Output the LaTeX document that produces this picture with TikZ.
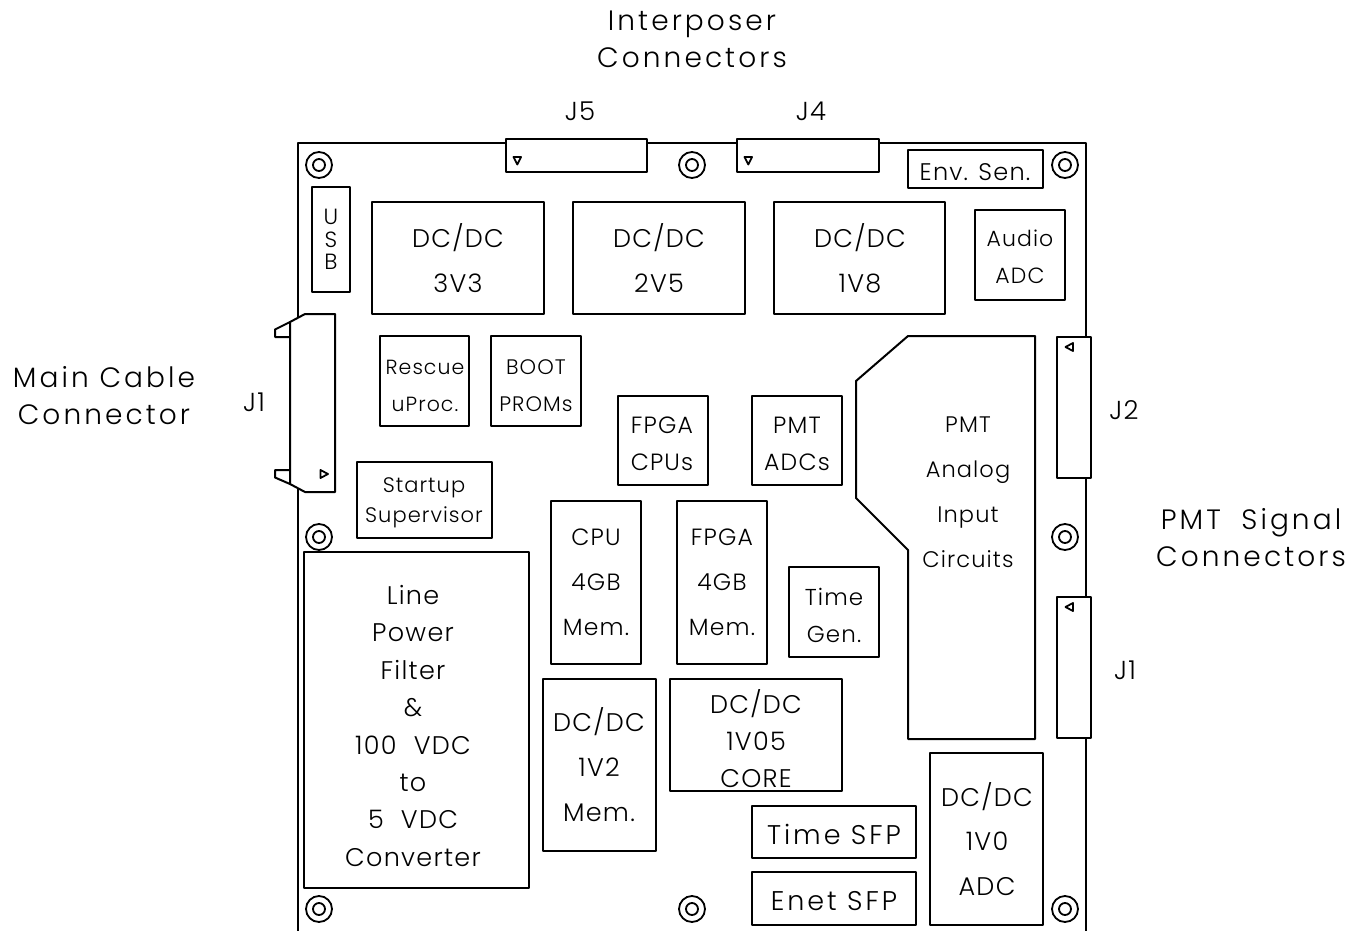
\documentclass[tikz,border=0pt]{standalone}
\usepackage{fontspec}
\setmainfont{Poppins Light}[LetterSpace=5]
\newcommand{\wide}{\addfontfeature{LetterSpace=11}}
\newcommand{\wsp}{\hspace{.35em}}
\tikzset{
  pcb/.style={draw=black,fill=white,line width=2pt,line join=round,inner sep=0pt,outer sep=0pt},
  plain/.style={draw=black,line width=2pt,line join=round},
  pinmark/.style={draw=black,line width=1.8pt,line join=round},
  txt/.style={align=center,inner sep=0pt,outer sep=0pt,text=black}
}
% \pbox{name}{x1}{y1}{x2}{y2}
\newcommand{\pbox}[5]{\node[pcb,minimum width={(#4-#2)*1pt},minimum height={(#5-#3)*1pt}] (#1) at ({(#2+#4)/2},{(#3+#5)/2}) {};}
% \ptxt{name}{x}{y}{size}{skip}{text}
\newcommand{\ptxt}[6]{\node[txt,font=\fontsize{#4}{#5}\selectfont] (#1) at (#2,#3) {#6};}
\newcommand{\hole}[3]{\node[circle,draw=black,line width=1.8pt,minimum size=26pt,inner sep=0pt] (#1o) at (#2,#3) {};
  \node[circle,draw=black,line width=1.8pt,minimum size=12pt,inner sep=0pt] (#1i) at (#2,#3) {};}
\begin{document}
\begin{tikzpicture}[x=1pt,y=-1pt]
\useasboundingbox (0,0) rectangle (1349,931);
% board
\draw[plain] (298,931) -- (298,143) -- (1086,143) -- (1086,931);
% holes
\hole{h1}{319}{165}\hole{h2}{692}{165}\hole{h3}{1065}{165}
\hole{h4}{319}{537}\hole{h5}{1065}{537}
\hole{h6}{319}{909}\hole{h7}{692}{909}\hole{h8}{1065}{909}
% top connectors
\pbox{jfive}{506}{139}{647}{172}
\pbox{jfour}{737}{139}{879}{172}
\draw[pinmark] (513.5,157) -- (521,157) -- (517.3,164.5) -- cycle;
\draw[pinmark] (744.5,157) -- (752,157) -- (748.3,164.5) -- cycle;
% right connectors
\pbox{jtwo}{1057}{337}{1091}{478}
\pbox{jonr}{1057}{597}{1091}{738}
\draw[pinmark] (1073,343) -- (1073,351) -- (1065.5,347) -- cycle;
\draw[pinmark] (1073,603) -- (1073,611) -- (1065.5,607) -- cycle;
% left connector
\draw[pcb] (290,322) -- (305,314) -- (335,314) -- (335,492) -- (305,492) -- (290,484) -- cycle;
\draw[plain] (290,322) -- (275,329.5) -- (275,337) -- (290,337);
\draw[plain] (290,470) -- (275,470) -- (275,477.5) -- (290,484);
\draw[pinmark] (320.5,470) -- (328,474) -- (320.5,478) -- cycle;
% boxes
\pbox{usb}{312}{187}{350}{292}
\pbox{dca}{372}{202}{544}{314}
\pbox{dcb}{573}{202}{745}{314}
\pbox{dcc}{774}{202}{945}{314}
\pbox{env}{908}{150}{1043}{188}
\pbox{aud}{975}{210}{1065}{300}
\pbox{res}{380}{336}{469}{426}
\pbox{boo}{491}{336}{581}{426}
\pbox{fcp}{618}{396}{708}{485}
\pbox{pad}{752}{396}{842}{485}
\pbox{sta}{357}{462}{492}{538}
\pbox{lin}{304}{552}{529}{888}
\pbox{cpu}{551}{501}{641}{664}
\pbox{fpg}{677}{501}{767}{664}
\pbox{tim}{789}{567}{879}{657}
\pbox{dcd}{543}{679}{656}{851}
\pbox{dce}{670}{679}{842}{791}
\pbox{tsf}{752}{806}{916}{858}
\pbox{esf}{752}{872}{916}{925}
\pbox{dcf}{930}{753}{1043}{925}
\draw[plain] (908,336) -- (1035,336) -- (1035,739) -- (908,739) -- (908,550) -- (856,498) -- (856,381) -- cycle;
% texts
\ptxt{tint}{692}{39}{28}{37}{\wide Interposer\\\wide Connectors}
\ptxt{tmain}{104}{396}{28}{37}{\wide Main Cable\\\wide Connector}
\ptxt{tpmts}{1251}{538}{28}{37}{\wide PMT\wsp{} Signal\\\wide Connectors}
\ptxt{tjfive}{580}{111.5}{26}{28}{J5}
\ptxt{tjfour}{811}{111.5}{26}{28}{J4}
\ptxt{tjl}{254}{402}{26}{28}{J1}
\ptxt{tjtwo}{1124}{410}{26}{28}{J2}
\ptxt{tjonr}{1125}{670}{26}{28}{J1}
\ptxt{tusb}{331}{239.5}{22}{22.5}{U\\S\\B}
\ptxt{tdca}{458}{258.5}{25.5}{45}{DC/DC\\3V3}
\ptxt{tdcb}{659}{258.5}{25.5}{45}{DC/DC\\2V5}
\ptxt{tdcc}{860}{258.5}{25.5}{45}{DC/DC\\1V8}
\ptxt{tenv}{975}{172}{24}{26}{Env. Sen.}
\ptxt{taud}{1020}{257}{22}{37}{Audio\\ADC}
\ptxt{tres}{425}{386}{20.5}{37}{Rescue\\uProc.}
\ptxt{tboo}{536}{386}{21}{37}{BOOT\\PROMs}
\ptxt{tfcp}{662}{444}{23.5}{37}{FPGA\\CPUs}
\ptxt{tpad}{797}{444}{23.5}{37}{PMT\\ADCs}
\ptxt{tsta}{424}{502.5}{21}{30}{Startup\\Supervisor}
\ptxt{tlin}{413}{726}{25.5}{37.4}{Line\\Power\\Filter\\\&\\100\wsp{} VDC\\to\\5\wsp{} VDC\\Converter}
\ptxt{tcpu}{596}{582}{23.5}{45}{CPU\\4GB\\Mem.}
\ptxt{tfpg}{722}{582}{23.5}{45}{FPGA\\4GB\\Mem.}
\ptxt{ttim}{834}{615}{23}{37}{Time\\Gen.}
\ptxt{tdcd}{599}{765}{25.5}{45}{DC/DC\\1V2\\Mem.}
\ptxt{tdce}{756}{739}{25.5}{37}{DC/DC\\1V05\\CORE}
\ptxt{ttsf}{834}{834}{27}{28}{\wide Time SFP}
\ptxt{tesf}{834}{901}{27}{28}{\wide Enet SFP}
\ptxt{tpan}{968}{492}{22.5}{45}{PMT\\Analog\\Input\\Circuits}
\ptxt{tdcf}{987}{839}{25.5}{44.5}{DC/DC\\1V0\\ADC}
\end{tikzpicture}
\end{document}
